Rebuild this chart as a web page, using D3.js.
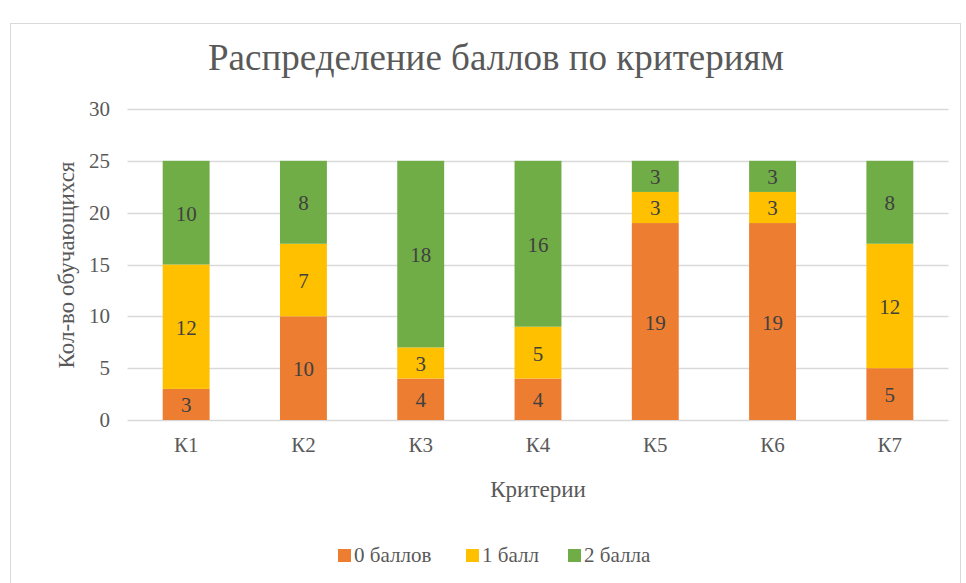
<!DOCTYPE html>
<html>
<head>
<meta charset="utf-8">
<script src="https://cdn.jsdelivr.net/npm/d3@7"></script>
<style>
  body { margin: 0; background: #fff; }
  #chart { position: relative; width: 966px; height: 583px; overflow: hidden; }
  #chart svg { position: absolute; left: 0; top: 0; }
  .lbl { position: absolute; white-space: nowrap; line-height: 1;
         font-family: "Liberation Serif", "Times New Roman", serif; color: #595959; }
</style>
</head>
<body>
<div id="chart"><svg width="966" height="583"></svg></div>
<script>
var categories = ["К1", "К2", "К3", "К4", "К5", "К6", "К7"];
var zeroPoints = [3, 10, 4, 4, 19, 19, 5];
var onePoint = [12, 7, 3, 5, 3, 3, 12];
var twoPoints = [10, 8, 18, 16, 3, 3, 8];
var seriesNames = ["0 баллов", "1 балл", "2 балла"];
var seriesColors = ["#ED7D31", "#FFC000", "#70AD47"];
var yTicks = [0, 5, 10, 15, 20, 25, 30];

var chart = d3.select("#chart");
var svg = chart.select("svg");

// text goes in html labels over the svg
function label(x, y, txt, size, anchor) {
  var tx = anchor == "end" ? "-100%" : anchor == "start" ? "0" : "-50%";
  return chart.append("div")
    .attr("class", "lbl")
    .style("left", x + "px")
    .style("top", y + "px")
    .style("font-size", size + "px")
    .style("transform", "translate(" + tx + ",-50%)")
    .text(txt);
}

// chart frame
svg.append("rect")
  .attr("x", 10.5).attr("y", 23.5)
  .attr("width", 950).attr("height", 570)
  .attr("fill", "#fff")
  .attr("stroke", "#d9d9d9");

var margin = {left: 127.5, right: 948.5, top: 109, bottom: 420};

var x = d3.scaleBand()
  .domain(categories)
  .range([margin.left, margin.right])
  .paddingInner(0.6)
  .paddingOuter(0.3);

var y = d3.scaleLinear()
  .domain([0, 30])
  .range([margin.bottom, margin.top]);

// gridlines
svg.append("g")
  .selectAll("line")
  .data(yTicks)
  .enter().append("line")
  .attr("x1", margin.left).attr("x2", margin.right)
  .attr("y1", function(d) { return Math.round(y(d)) + 0.5; })
  .attr("y2", function(d) { return Math.round(y(d)) + 0.5; })
  .attr("stroke", "#d9d9d9")
  .attr("stroke-width", 1.3);

yTicks.forEach(function(d) {
  label(110, y(d), d, 21, "end");
});

var table = categories.map(function(c, i) {
  return {cat: c, s0: zeroPoints[i], s1: onePoint[i], s2: twoPoints[i]};
});
var layers = d3.stack().keys(["s0", "s1", "s2"])(table);

var layer = svg.append("g")
  .selectAll("g")
  .data(layers)
  .enter().append("g")
  .attr("fill", function(d, i) { return seriesColors[i]; });

layer.selectAll("rect")
  .data(function(d) { return d; })
  .enter().append("rect")
  .attr("x", function(d) { return x(d.data.cat); })
  .attr("width", x.bandwidth())
  .attr("y", function(d) { return y(d[1]); })
  .attr("height", function(d) { return y(d[0]) - y(d[1]); });

// data labels
layers.forEach(function(s) {
  s.forEach(function(d) {
    label(x(d.data.cat) + x.bandwidth() / 2, (y(d[0]) + y(d[1])) / 2 + 1, d[1] - d[0], 21)
      .style("color", "#404040");
  });
});

// category labels
categories.forEach(function(c) {
  label(x(c) + x.bandwidth() / 2, 445, c, 21);
});

// titles
label(496, 57, "Распределение баллов по критериям", 37);
label(538, 489, "Критерии", 23);
label(66, 265, "Кол-во обучающихся", 23)
  .style("transform", "translate(-50%,-50%) rotate(-90deg)");

// legend
var legendX = [338, 466, 568];
seriesNames.forEach(function(name, i) {
  svg.append("rect")
    .attr("x", legendX[i]).attr("y", 549)
    .attr("width", 13).attr("height", 13)
    .attr("fill", seriesColors[i]);
  label(legendX[i] + 16, 555, name, 21, "start");
});
</script>
</body>
</html>
